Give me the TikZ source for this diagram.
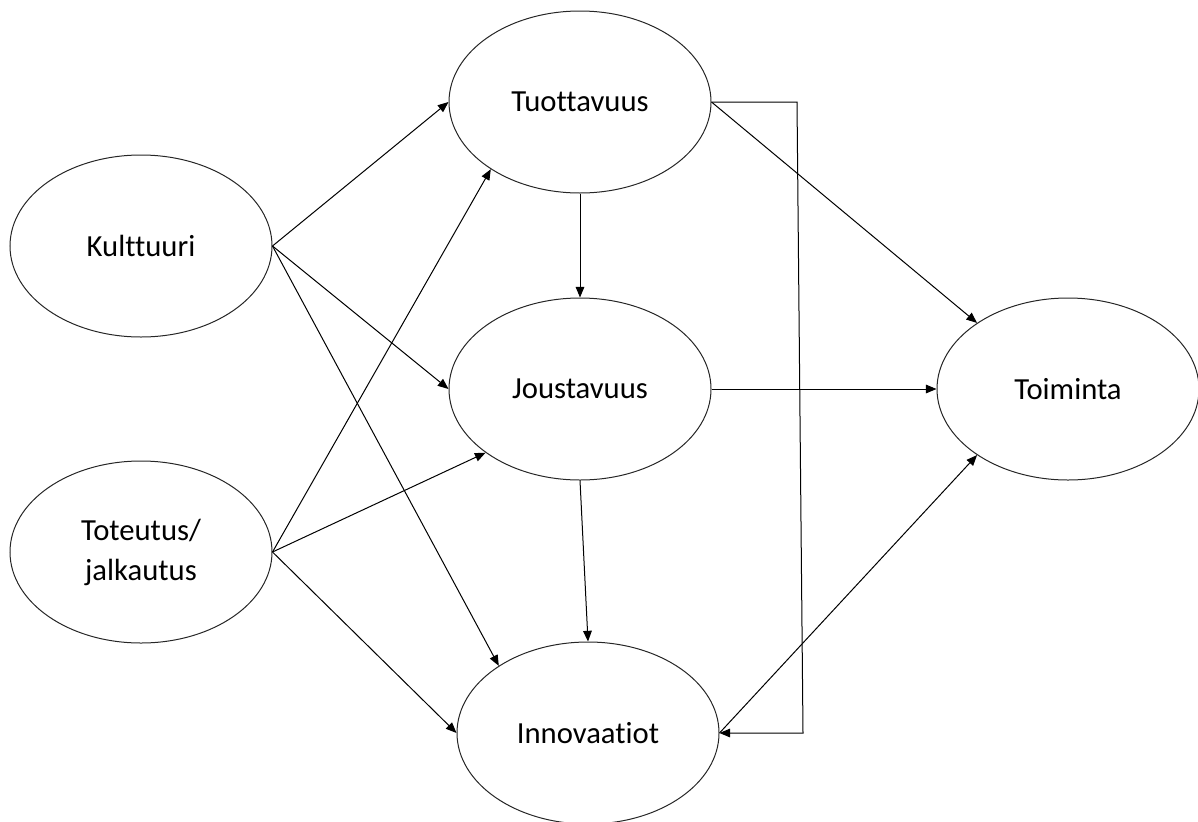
\documentclass[tikz,border=0pt]{standalone}
\usepackage{fontspec}
\setmainfont{Carlito}[Ligatures=NoCommon]
\usepackage{tikz}
\usetikzlibrary{positioning}
\usetikzlibrary{arrows.meta,shapes.geometric}
\tikzstyle{factor}=[ellipse,draw=black!85,line width=0.75pt,minimum width=196.5pt,minimum height=136.5pt,inner sep=0pt,align=center,font=\fontsize{23}{30}\selectfont]
\tikzstyle{edge} = [draw,line width=0.75pt,-{Triangle[length=8pt,width=6.5pt]}]

\begin{document}
\begin{tikzpicture}

  \def\u{0.75pt};

  \useasboundingbox (0,0) rectangle (1198*\u, -821*\u);

     \foreach \x/\y/\name/\label in {141/246/Kult/Kulttuuri, 141/552/Tot/{Toteutus/\\jalkautus}}
          \node[factor] (\name) at (\x*\u, -\y*\u) {\label};

     \foreach \x/\y/\name/\label in {580/102/Tuot/Tuottavuus, 580/389/Joust/Joustavuus, 588/733/Innov/Innovaatiot}
          \node[factor] (\name) at (\x*\u, -\y*\u) {\label};

     \foreach \x/\y/\name/\label in {1068/389/Toim/Toiminta}
          \node[factor] (\name) at (\x*\u, -\y*\u) {\label};

  \coordinate (elbowtop) at (797*\u, -102*\u);
  \coordinate (elbowbot) at (803*\u, -733*\u);

  \foreach \source/ \dest in {Kult.east/Tuot.west, Kult.east/Joust.west, Kult.east/Innov.143.8}
         \path[edge] (\source) -- (\dest);

  \foreach \source/ \dest in {Tot.east/Tuot.217.3, Tot.east/Joust.214.8, Tot.east/Innov.west}
         \path[edge] (\source) -- (\dest);

  \foreach \source/ \dest in {Tuot.south/Joust.north, Joust.south/Innov.north, Joust.east/Toim.west, Tuot.east/Toim.144, Innov.east/Toim.216.8}
         \path[edge] (\source) -- (\dest);

  \path[edge] (Tuot.east) -- (elbowtop) -- (elbowbot) -- (Innov.east);

\end{tikzpicture}
\end{document}
